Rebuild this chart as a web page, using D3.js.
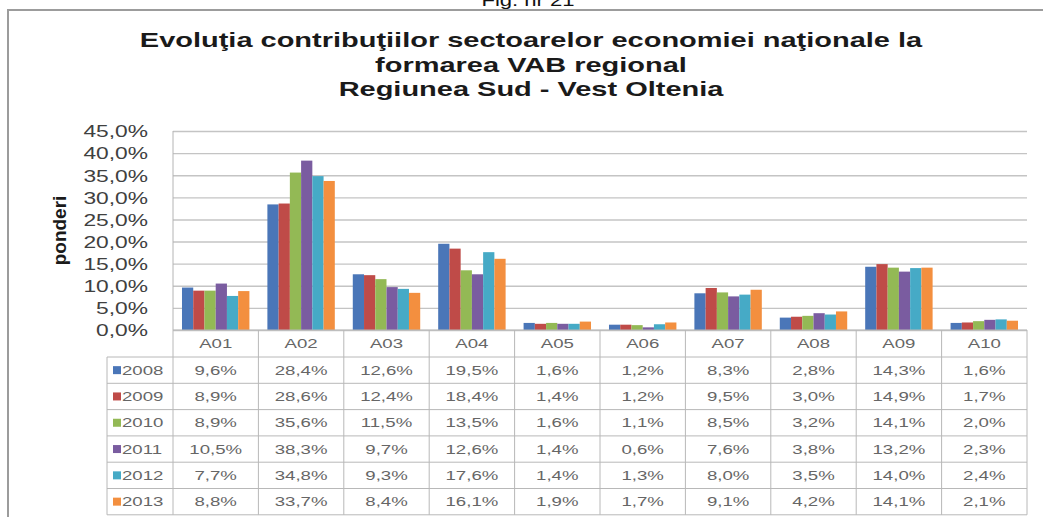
<!DOCTYPE html>
<html>
<head>
<meta charset="utf-8">
<script src="https://cdn.jsdelivr.net/npm/d3@7"></script>
<style>
  body { margin: 0; background: #fff; }
  svg { display: block; font-family: "Liberation Sans", Arial, sans-serif; }
</style>
</head>
<body>
<div id="chart"></div>
<script>
// data
const categories = ["A01", "A02", "A03", "A04", "A05", "A06", "A07", "A08", "A09", "A10"];
const years = ["2008", "2009", "2010", "2011", "2012", "2013"];
const v2008 = [9.6, 28.4, 12.6, 19.5, 1.6, 1.2, 8.3, 2.8, 14.3, 1.6];
const v2009 = [8.9, 28.6, 12.4, 18.4, 1.4, 1.2, 9.5, 3.0, 14.9, 1.7];
const v2010 = [8.9, 35.6, 11.5, 13.5, 1.6, 1.1, 8.5, 3.2, 14.1, 2.0];
const v2011 = [10.5, 38.3, 9.7, 12.6, 1.4, 0.6, 7.6, 3.8, 13.2, 2.3];
const v2012 = [7.7, 34.8, 9.3, 17.6, 1.4, 1.3, 8.0, 3.5, 14.0, 2.4];
const v2013 = [8.8, 33.7, 8.4, 16.1, 1.9, 1.7, 9.1, 4.2, 14.1, 2.1];
const series = [v2008, v2009, v2010, v2011, v2012, v2013];
const yTicks = [0, 5, 10, 15, 20, 25, 30, 35, 40, 45];
const titleLines = ["Evoluţia contribuţiilor sectoarelor economiei naţionale la",
                    "formarea VAB regional",
                    "Regiunea Sud - Vest Oltenia"];
const colors = ["#4a76b8", "#bf4b48", "#93b955", "#7a5ca0", "#46aac6", "#f38f3f"];

var width = 1043, height = 517;
var SX = 1.38; // the picture is stretched sideways
var L = 173, R = 1027, T = 131, B = 330;
var headH = 27, rowH = 26.3, tabLeft = 107;

var ro = d3.formatLocale({ decimal: ",", thousands: ".", grouping: [3], currency: ["", ""] });
var fmt = d => ro.format(".1f")(d) + "%";

var svg = d3.select("#chart").append("svg")
    .attr("width", width).attr("height", height);

function stext(g, x, y, s, anchor) {
    return g.append("text")
        .attr("transform", "translate(" + x + "," + y + ") scale(" + SX + ",1)")
        .attr("text-anchor", anchor || "middle")
        .text(s);
}

// top caption, mostly cut off in the original too
stext(svg, 528, 6, "Fig. nr 21").style("font-size", "16px").attr("fill", "#111");

// outer frame
svg.append("rect")
    .attr("x", 8).attr("y", 10).attr("width", 1200).attr("height", 700)
    .attr("fill", "none").attr("stroke", "#9c9c9c").attr("stroke-width", 2);

// title
titleLines.forEach((t, i) => {
    stext(svg, 531, 47 + i * 24.5, t)
        .style("font-size", "21px").style("font-weight", "bold").attr("fill", "#1a1a1a");
});

var x0 = d3.scaleBand().domain(categories).range([L, R]);
var x1 = d3.scaleBand().domain(years).range([0, x0.bandwidth()]).paddingOuter(0.8);
var y = d3.scaleLinear().domain([0, 45]).range([B, T]);

// gridlines
svg.append("g")
    .attr("transform", "translate(" + L + ",0)")
    .call(d3.axisLeft(y).tickValues(yTicks).tickSize(-(R - L)).tickFormat(""))
    .call(g => g.select(".domain").remove())
    .call(g => g.selectAll("line").attr("stroke", "#c4c4c4").attr("stroke-width", 1.4));

svg.append("line").attr("x1", L).attr("x2", L).attr("y1", T).attr("y2", B)
    .attr("stroke", "#b4b4b4");

// y labels
var yAx = svg.append("g")
    .attr("transform", "translate(" + (L - 25) + ",0)")
    .call(d3.axisLeft(y).tickValues(yTicks).tickSize(0).tickPadding(0).tickFormat(fmt));
yAx.select(".domain").remove();
yAx.selectAll("text")
    .attr("x", 0).attr("dy", "0.35em")
    .attr("transform", "scale(" + SX + ",1)")
    .style("font-size", "16.5px").style("font-family", "Liberation Sans, Arial, sans-serif")
    .attr("fill", "#404040");

// y title
svg.append("text")
    .attr("transform", "translate(66," + ((T + B) / 2) + ") rotate(-90)")
    .attr("text-anchor", "middle")
    .style("font-size", "19px").style("font-weight", "bold").attr("fill", "#1a1a1a")
    .text("ponderi");

// bars
var grp = svg.append("g").selectAll("g")
    .data(series).enter().append("g")
    .attr("fill", (d, i) => colors[i]);
grp.selectAll("rect")
    .data((d, i) => d.map((v, j) => ({ v: v, c: categories[j], yr: years[i] })))
    .enter().append("rect")
    .attr("x", d => x0(d.c) + x1(d.yr))
    .attr("y", d => y(d.v))
    .attr("width", x1.bandwidth())
    .attr("height", d => B - y(d.v));

// data table
var tab = svg.append("g").attr("fill", "#666").style("font-size", "13.5px");
var tabBottom = B + headH + rowH * years.length;
var lineCol = "#b8b8b8";

svg.append("line").attr("x1", L).attr("x2", R).attr("y1", B).attr("y2", B).attr("stroke", lineCol);
for (var i = 0; i <= years.length; i++) {
    var yy = B + headH + rowH * i;
    svg.append("line").attr("x1", tabLeft).attr("x2", R).attr("y1", yy).attr("y2", yy)
        .attr("stroke", lineCol);
}
svg.append("line").attr("x1", tabLeft).attr("x2", tabLeft).attr("y1", B + headH).attr("y2", tabBottom)
    .attr("stroke", lineCol);
categories.concat(["end"]).forEach((c, j) => {
    var xx = c === "end" ? R : x0(c);
    svg.append("line").attr("x1", xx).attr("x2", xx).attr("y1", B).attr("y2", tabBottom)
        .attr("stroke", lineCol);
});

categories.forEach(c => {
    stext(tab, x0(c) + x0.bandwidth() / 2, B + headH / 2, c).attr("dy", "0.35em");
});

years.forEach((yr, i) => {
    var cy = B + headH + rowH * (i + 0.5);
    svg.append("rect").attr("x", 113).attr("y", cy - 4).attr("width", 8).attr("height", 8)
        .attr("fill", colors[i]);
    stext(tab, 122, cy, yr, "start").attr("dy", "0.35em");
    series[i].forEach((v, j) => {
        stext(tab, x0(categories[j]) + x0.bandwidth() / 2, cy, fmt(v)).attr("dy", "0.35em");
    });
});
</script>
</body>
</html>
